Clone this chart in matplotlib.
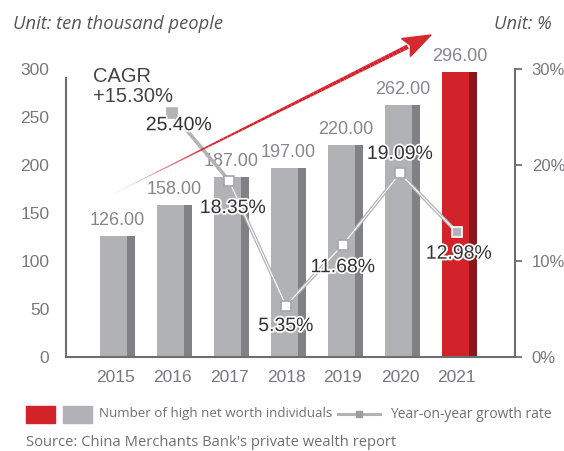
import numpy as np
import matplotlib
matplotlib.use("Agg")
import matplotlib.pyplot as plt
import matplotlib.patheffects as pe
from matplotlib.collections import LineCollection
from matplotlib.patches import Rectangle, Polygon
from matplotlib.lines import Line2D

years = ["2015", "2016", "2017", "2018", "2019", "2020", "2021"]
people = [126.00, 158.00, 187.00, 197.00, 220.00, 262.00, 296.00]
growth_years = ["2016", "2017", "2018", "2019", "2020", "2021"]
growth = [25.40, 18.35, 5.35, 11.68, 19.09, 12.98]
# label offsets in pixels (dx, dy) relative to each marker
growth_offsets = [(7, -13), (4, -28), (0, -21), (0, -23), (0, 19), (2, -22)]
left_ticks = [0, 50, 100, 150, 200, 250, 300]
right_ticks = [0, 10, 20, 30]

W, H = 564, 451
LIGHT = "#b1b2b6"
DARK = "#808185"
RED = "#d2232a"
DRED = "#8b161c"
TXT = "#77787b"
SPINE = "#6d6e71"
SANS2 = ["Open Sans", "DejaVu Sans"]

plt.rcParams['font.family'] = ['Liberation Sans', 'DejaVu Sans']

def fx(px):
    return px / W

def fy(py):
    return 1 - py / H

fig = plt.figure(figsize=(W / 100, H / 100), dpi=100)
ax = fig.add_axes([fx(66), fy(357), (515 - 66) / W, (357 - 68.5) / H])

x = np.arange(len(years))
light_c = [LIGHT] * (len(years) - 1) + [RED]
dark_c = [DARK] * (len(years) - 1) + [DRED]
ax.bar(x - 0.26, people, width=0.47, align="edge", color=light_c, zorder=2)
ax.bar(x + 0.21, people, width=0.14, align="edge", color=dark_c, zorder=2)
for xi, v in zip(x, people):
    ax.annotate(f"{v:.2f}", (xi + 0.045, v), xytext=(0, 7), textcoords="offset pixels",
                ha="center", va="bottom", fontsize=13, color="#86878a")

ax.set_xlim(-0.86, 7.02)
ax.set_ylim(0, 300)
ax.set_xticks(x)
ax.set_xticklabels(years)
ax.set_yticks(left_ticks)
ax.tick_params(axis="x", length=0, pad=9, labelsize=12.5, labelcolor=TXT)
ax.tick_params(axis="y", length=0, pad=12, labelsize=12.5, labelcolor=TXT)
for s in ["top", "right"]:
    ax.spines[s].set_visible(False)
for s in ["left", "bottom"]:
    ax.spines[s].set_color(SPINE)
    ax.spines[s].set_linewidth(1.5)
ax.spines["left"].set_bounds(0, 290)

ax2 = ax.twinx()
ax2.set_ylim(0, 30)
ax2.set_yticks(right_ticks)
ax2.set_yticklabels([f"{t}%" for t in right_ticks])
ax2.tick_params(axis="y", direction="out", length=5, width=1.3, color=SPINE,
                pad=7, labelsize=12, labelcolor=TXT)
for s in ["top", "left", "bottom"]:
    ax2.spines[s].set_visible(False)
ax2.spines["right"].set_color(SPINE)
ax2.spines["right"].set_linewidth(1.5)

gx = [years.index(y) for y in growth_years]
ax2.plot(gx, growth, color="#b3b3b5", lw=2.6, zorder=3, solid_joinstyle="miter")
ax2.plot(gx[1:], growth[1:], color="white", lw=0.8, zorder=4)
faces = ["#b3b3b5", "white", "white", "white", "white", "#b3b3b5"]
edges = ["#b3b3b5", "#a5a5a8", "#a5a5a8", "#a5a5a8", "#a5a5a8", "white"]
for gxi, g, fc, ec in zip(gx, growth, faces, edges):
    ax2.plot(gxi, g, marker="s", ms=7, mfc=fc, mec=ec, mew=1.2, zorder=5)
for gxi, g, (dx, dy) in zip(gx, growth, growth_offsets):
    ax2.annotate(f"{g:.2f}%", (gxi, g), xytext=(dx, dy), textcoords="offset pixels",
                 ha="center", va="center", fontsize=14, color="#333333", zorder=6,
                 path_effects=[pe.withStroke(linewidth=2.5, foreground="white")])

# red CAGR arrow with fading tail
tail = np.array([107.0, 197.0])
tip = np.array([431.0, 35.0])
d = (tip - tail) / np.linalg.norm(tip - tail)
base = tip - 28 * d
n = 80
t = np.linspace(0, 1, n + 1)
pts = tail + (base + 2 * d - tail) * t[:, None]
segs = [[(fx(a[0]), fy(a[1])), (fx(b[0]), fy(b[1]))] for a, b in zip(pts[:-1], pts[1:])]
tm = (t[:-1] + t[1:]) / 2
widths = 0.3 + 3.0 * tm
alphas = np.clip(tm / 0.35, 0, 1)
cols = [(0.83, 0.14, 0.17, a) for a in alphas]
lc = LineCollection(segs, linewidths=widths, colors=cols, transform=fig.transFigure,
                    capstyle="butt")
fig.add_artist(lc)
perp = np.array([-d[1], d[0]])
c1 = base + 10 * perp
c2 = base - 10 * perp
notch = base + 5 * d
head = Polygon([(fx(tip[0]), fy(tip[1])), (fx(c1[0]), fy(c1[1])),
                (fx(notch[0]), fy(notch[1])), (fx(c2[0]), fy(c2[1]))],
               closed=True, color="#d42a2e", transform=fig.transFigure)
fig.add_artist(head)

fig.text(fx(93), fy(67), "CAGR\n+15.30%", ha="left", va="top", fontsize=14.5,
         color="#444444", linespacing=1.1)

fig.text(fx(13), fy(24), "Unit: ten thousand people", ha="left", va="center",
         fontsize=13.2, style="italic", color="#555555", family=SANS2)
fig.text(fx(552), fy(24), "Unit: %", ha="right", va="center",
         fontsize=13.2, style="italic", color="#555555", family=SANS2)

# legend
fig.add_artist(Rectangle((fx(26), fy(423)), (55 - 26) / W, 17 / H, color=RED,
                         transform=fig.transFigure))
fig.add_artist(Rectangle((fx(63), fy(423)), (92 - 63) / W, 17 / H, color=LIGHT,
                         transform=fig.transFigure))
fig.text(fx(99), fy(414), "Number of high net worth individuals", ha="left", va="center",
         fontsize=9.6, color="#707072", family=SANS2)
fig.add_artist(Line2D([fx(338), fx(380)], [fy(414), fy(414)], color="#b3b3b5", lw=2.2,
                      transform=fig.transFigure))
fig.add_artist(Line2D([fx(359)], [fy(414)], marker="s", ms=5, color="#9d9da0",
                      transform=fig.transFigure))
fig.text(fx(390), fy(414), "Year-on-year growth rate", ha="left", va="center",
         fontsize=10, color="#707072", family=SANS2)
fig.text(fx(26), fy(442), "Source: China Merchants Bank's private wealth report",
         ha="left", va="center", fontsize=10.6, color="#707072", family=SANS2)

fig.savefig("out.png", dpi=100)
